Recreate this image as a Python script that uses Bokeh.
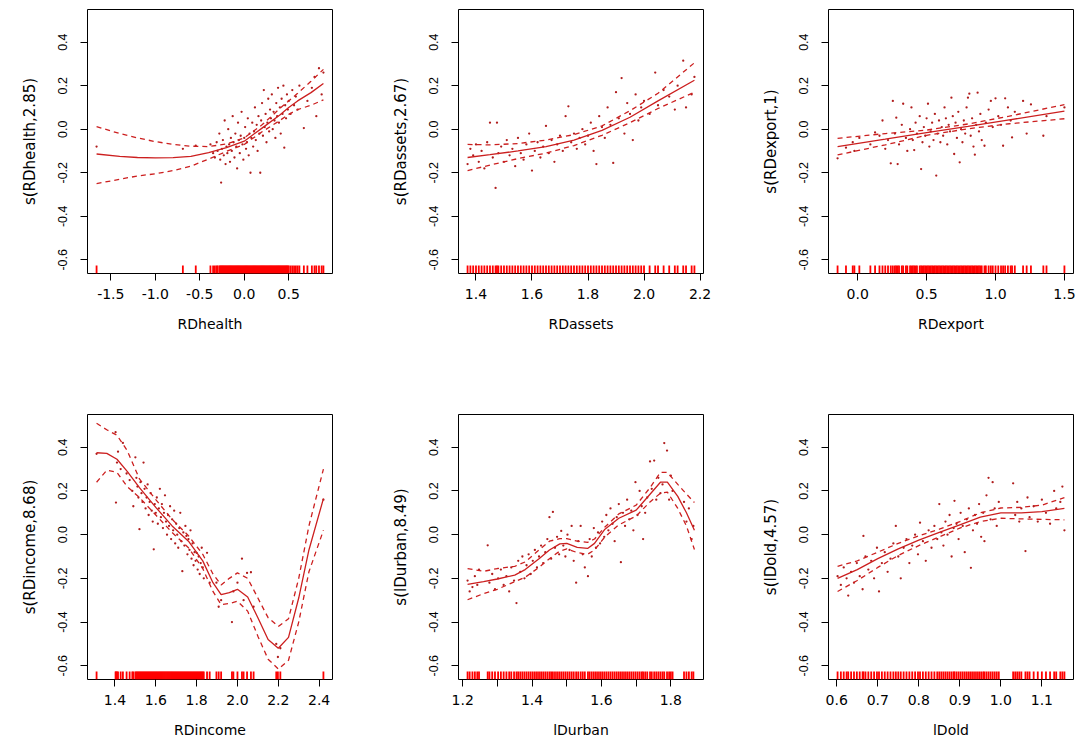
from bokeh.plotting import figure
from bokeh.layouts import column, row
from bokeh.models import Range1d, FixedTicker
from bokeh.embed import file_html
from bokeh.resources import INLINE

# ---------------- shared y axis ----------------
Y_LO, Y_HI = -0.663, 0.55
y_ticks = [-0.6, -0.4, -0.2, 0.0, 0.2, 0.4]
y_tick_labels = ["-0.6", "-0.4", "-0.2", "0.0", "0.2", "0.4"]

# ---------------- panel 1: RDhealth ----------------
p1_xlabel = "RDhealth"
p1_ylabel = "s(RDhealth,2.85)"
p1_ticks = [-1.5, -1.0, -0.5, 0.0, 0.5]
p1_tick_labels = ["-1.5", "-1.0", "-0.5", "0.0", "0.5"]
p1_grid = [-1.66, -1.4, -1.2, -1.0, -0.8, -0.6, -0.4, -0.2, 0.0, 0.2, 0.4, 0.5, 0.6, 0.75, 0.89]
p1_fit = [-0.114, -0.125, -0.13, -0.132, -0.131, -0.125, -0.108, -0.085, -0.055, 0.005, 0.065, 0.1, 0.13, 0.168, 0.21]
p1_up = [0.012, -0.02, -0.04, -0.057, -0.07, -0.078, -0.08, -0.068, -0.04, 0.02, 0.095, 0.13, 0.165, 0.22, 0.275]
p1_lo = [-0.25, -0.23, -0.215, -0.205, -0.19, -0.17, -0.137, -0.102, -0.07, -0.012, 0.04, 0.068, 0.09, 0.11, 0.135]
p1_x = [-1.66, -0.69, -0.545, -0.38, -0.35, -0.33, -0.31, -0.3, -0.28, -0.27, -0.26, -0.25, -0.24, -0.23, -0.22,
        -0.21, -0.2, -0.19, -0.18, -0.17, -0.16, -0.15, -0.14, -0.13, -0.12, -0.11, -0.1, -0.09, -0.08, -0.07,
        -0.06, -0.05, -0.04, -0.03, -0.02, -0.01, 0.0, 0.01, 0.02, 0.03, 0.04, 0.05, 0.06, 0.07, 0.08, 0.09, 0.1,
        0.11, 0.12, 0.13, 0.14, 0.15, 0.16, 0.17, 0.18, 0.19, 0.2, 0.21, 0.22, 0.23, 0.24, 0.25, 0.26, 0.27, 0.28,
        0.29, 0.3, 0.31, 0.32, 0.33, 0.34, 0.35, 0.36, 0.37, 0.38, 0.39, 0.4, 0.41, 0.42, 0.43, 0.44, 0.45, 0.46,
        0.47, 0.48, 0.49, 0.5, 0.52, 0.54, 0.56, 0.58, 0.6, 0.62, 0.67, 0.71, 0.76, 0.79, 0.81, 0.84, 0.87, 0.89]
p1_y = [-0.08, -0.09, -0.075, -0.07, -0.11, -0.13, -0.06, -0.1, -0.02, -0.14, -0.245, -0.09, -0.05, -0.12, 0.04,
        -0.16, -0.08, -0.11, 0.0, -0.07, -0.15, -0.04, -0.1, 0.06, -0.06, -0.13, -0.02, -0.08, -0.18, 0.03,
        -0.05, -0.11, -0.03, 0.08, -0.07, -0.14, -0.04, 0.01, -0.09, -0.06, 0.05, -0.12, -0.02, -0.2, -0.04, 0.03,
        -0.08, -0.01, 0.1, -0.05, 0.02, -0.1, 0.06, -0.02, -0.2, 0.04, 0.12, -0.03, 0.18, 0.01, 0.07, -0.06, 0.03,
        0.14, -0.01, 0.09, 0.05, 0.16, 0.0, 0.08, 0.04, -0.04, 0.12, 0.06, 0.19, 0.03, 0.1, -0.02, 0.14, 0.07, 0.2,
        -0.085, 0.11, 0.05, 0.16, 0.09, 0.13, 0.07, 0.18, 0.11, 0.15, 0.09, 0.2, 0.005, 0.13, 0.19, 0.24, 0.06,
        0.28, 0.16, 0.26]

# ---------------- panel 2: RDassets ----------------
p2_xlabel = "RDassets"
p2_ylabel = "s(RDassets,2.67)"
p2_ticks = [1.4, 1.6, 1.8, 2.0, 2.2]
p2_tick_labels = ["1.4", "1.6", "1.8", "2.0", "2.2"]
p2_grid = [1.37, 1.45, 1.55, 1.65, 1.75, 1.85, 1.95, 2.05, 2.18]
p2_fit = [-0.13, -0.117, -0.1, -0.08, -0.05, -0.005, 0.055, 0.13, 0.225]
p2_up = [-0.07, -0.072, -0.066, -0.05, -0.025, 0.015, 0.085, 0.165, 0.305]
p2_lo = [-0.19, -0.165, -0.135, -0.11, -0.075, -0.028, 0.03, 0.095, 0.17]
p2_x = [1.37, 1.38, 1.39, 1.4, 1.41, 1.42, 1.43, 1.44, 1.45, 1.46, 1.47, 1.475, 1.48, 1.49, 1.5, 1.51, 1.52,
        1.53, 1.54, 1.55, 1.56, 1.57, 1.58, 1.59, 1.6, 1.61, 1.62, 1.63, 1.64, 1.65, 1.66, 1.67, 1.68, 1.69, 1.7,
        1.71, 1.72, 1.73, 1.74, 1.75, 1.76, 1.77, 1.78, 1.79, 1.8, 1.81, 1.82, 1.83, 1.84, 1.85, 1.86, 1.87, 1.88,
        1.89, 1.9, 1.91, 1.92, 1.93, 1.94, 1.95, 1.96, 1.97, 1.98, 1.99, 2.0, 2.02, 2.04, 2.05, 2.07, 2.09, 2.11,
        2.12, 2.14, 2.15, 2.17, 2.18]
p2_y = [-0.16, -0.09, -0.12, -0.07, -0.15, -0.1, -0.18, -0.06, 0.03, -0.13, -0.27, 0.03, -0.11, -0.08, -0.15,
        -0.05, -0.12, -0.09, -0.17, -0.04, -0.11, -0.14, -0.07, -0.02, -0.19, -0.1, -0.06, -0.13, -0.08, 0.015,
        -0.11, -0.05, -0.15, -0.07, -0.03, -0.1, 0.06, 0.105, -0.06, -0.02, -0.09, -0.04, 0.0, -0.07, -0.03, 0.03,
        -0.1, -0.16, 0.06, 0.01, -0.04, 0.1, 0.02, -0.155, 0.17, 0.05, 0.235, -0.02, 0.12, 0.07, -0.05, 0.16, 0.04,
        0.1, 0.13, 0.07, 0.26, 0.11, 0.18, 0.15, 0.09, 0.2, 0.315, 0.1, 0.16, 0.24]

# ---------------- panel 3: RDexport ----------------
p3_xlabel = "RDexport"
p3_ylabel = "s(RDexport,1)"
p3_ticks = [0.0, 0.5, 1.0, 1.5]
p3_tick_labels = ["0.0", "0.5", "1.0", "1.5"]
p3_grid = [-0.146, 0.2, 0.5, 0.8, 1.1, 1.5]
p3_fit = [-0.08, -0.046, -0.016, 0.013, 0.043, 0.083]
p3_up = [-0.042, -0.02, -0.004, 0.024, 0.06, 0.113]
p3_lo = [-0.118, -0.072, -0.028, 0.002, 0.025, 0.048]
p3_x = [-0.146, -0.085, -0.036, -0.024, 0.012, 0.092, 0.126, 0.158, 0.18, 0.2, 0.22, 0.24, 0.255, 0.27, 0.28,
        0.29, 0.3, 0.32, 0.33, 0.35, 0.36, 0.38, 0.39, 0.4, 0.41, 0.42, 0.43, 0.45, 0.46, 0.47, 0.48, 0.49, 0.5,
        0.51, 0.52, 0.53, 0.54, 0.55, 0.56, 0.57, 0.58, 0.59, 0.6, 0.61, 0.62, 0.63, 0.64, 0.65, 0.66, 0.67, 0.68,
        0.69, 0.7, 0.71, 0.72, 0.73, 0.74, 0.75, 0.76, 0.77, 0.78, 0.79, 0.8, 0.81, 0.82, 0.83, 0.84, 0.85, 0.86,
        0.87, 0.88, 0.89, 0.9, 0.92, 0.93, 0.95, 0.966, 0.98, 1.0, 1.02, 1.04, 1.055, 1.07, 1.09, 1.11, 1.12, 1.14,
        1.2, 1.226, 1.257, 1.347, 1.37, 1.5]
p3_y = [-0.134, -0.085, -0.06, -0.1, -0.04, -0.07, -0.015, -0.03, 0.04, -0.09, -0.05, -0.157, 0.13, -0.02, 0.053,
        -0.16, -0.07, 0.02, 0.117, -0.04, -0.1, 0.0, 0.1, -0.05, -0.096, 0.03, -0.02, 0.06, -0.183, -0.06, 0.01,
        -0.03, 0.05, 0.117, -0.08, -0.01, 0.03, -0.05, 0.07, -0.213, -0.02, 0.04, -0.06, 0.01, -0.03, 0.1, 0.05,
        -0.07, 0.02, -0.01, 0.145, 0.06, -0.114, 0.03, -0.04, 0.08, -0.152, 0.0, -0.06, 0.04, -0.02, 0.1, 0.145,
        0.163, -0.03, 0.05, -0.08, -0.117, 0.02, 0.168, -0.01, 0.07, -0.05, -0.076, 0.03, 0.09, 0.13, 0.01, 0.142,
        0.06, 0.02, -0.076, 0.142, 0.1, 0.04, -0.038, 0.08, 0.13, -0.02, 0.114, -0.03, 0.06, 0.1]

# ---------------- panel 4: RDincome ----------------
p4_xlabel = "RDincome"
p4_ylabel = "s(RDincome,8.68)"
p4_ticks = [1.4, 1.6, 1.8, 2.0, 2.2, 2.4]
p4_tick_labels = ["1.4", "1.6", "1.8", "2.0", "2.2", "2.4"]
p4_grid = [1.31, 1.36, 1.41, 1.46, 1.52, 1.6, 1.68, 1.76, 1.83, 1.88, 1.92, 1.96, 2.0, 2.05, 2.1, 2.15, 2.2,
           2.25, 2.3, 2.35, 2.421]
p4_fit = [0.375, 0.372, 0.345, 0.29, 0.215, 0.125, 0.04, -0.03, -0.12, -0.22, -0.275, -0.265, -0.25, -0.285,
          -0.38, -0.48, -0.52, -0.47, -0.29, -0.07, 0.165]
p4_up = [0.51, 0.48, 0.455, 0.385, 0.255, 0.16, 0.07, -0.005, -0.09, -0.18, -0.23, -0.2, -0.175, -0.2, -0.29,
         -0.38, -0.42, -0.385, -0.2, 0.04, 0.3]
p4_lo = [0.24, 0.295, 0.285, 0.22, 0.17, 0.09, 0.01, -0.06, -0.155, -0.26, -0.32, -0.315, -0.305, -0.35, -0.465,
         -0.57, -0.615, -0.575, -0.4, -0.17, 0.02]
p4_x = [1.31, 1.403, 1.405, 1.41, 1.415, 1.428, 1.439, 1.457, 1.472, 1.485, 1.49, 1.5, 1.505, 1.51, 1.515, 1.52,
        1.525, 1.53, 1.535, 1.54, 1.545, 1.55, 1.555, 1.56, 1.565, 1.57, 1.575, 1.58, 1.585, 1.59, 1.595, 1.6,
        1.605, 1.61, 1.615, 1.62, 1.625, 1.63, 1.635, 1.64, 1.645, 1.65, 1.655, 1.66, 1.665, 1.67, 1.675, 1.68,
        1.685, 1.69, 1.695, 1.7, 1.705, 1.71, 1.715, 1.72, 1.725, 1.73, 1.735, 1.74, 1.745, 1.75, 1.755, 1.76,
        1.765, 1.77, 1.775, 1.78, 1.785, 1.79, 1.795, 1.8, 1.805, 1.81, 1.815, 1.82, 1.825, 1.83, 1.835, 1.851,
        1.864, 1.897, 1.908, 1.92, 1.973, 1.98, 2.0, 2.022, 2.03, 2.047, 2.066, 2.079, 2.19, 2.198, 2.21, 2.421]
p4_y = [0.37, 0.469, 0.147, 0.33, 0.38, 0.3, 0.42, 0.28, 0.25, 0.2, 0.13, 0.354, 0.26, 0.22, 0.17, 0.025, 0.24,
        0.19, 0.15, 0.33, 0.21, 0.12, 0.17, 0.23, 0.09, 0.15, 0.19, 0.11, 0.06, -0.067, 0.14, 0.1, 0.17, 0.05,
        0.12, 0.21, 0.08, 0.14, 0.03, 0.1, 0.18, 0.06, 0.0, 0.09, 0.04, 0.13, -0.02, 0.07, 0.02, 0.11, -0.04, 0.05,
        0.0, -0.06, 0.03, 0.1, -0.03, -0.167, 0.01, -0.05, 0.04, -0.006, -0.09, -0.02, -0.07, 0.02, -0.11, -0.04,
        -0.14, -0.08, -0.12, -0.083, -0.16, -0.1, -0.18, -0.13, -0.06, -0.15, -0.2, -0.083, -0.22, -0.22, -0.33,
        -0.3, -0.4, -0.26, -0.22, -0.11, -0.3, -0.175, -0.172, -0.33, -0.5, -0.56, -0.52, 0.16]

# ---------------- panel 5: lDurban ----------------
p5_xlabel = "lDurban"
p5_ylabel = "s(lDurban,8.49)"
p5_ticks = [1.2, 1.3, 1.4, 1.5, 1.6, 1.7, 1.8]
p5_tick_labels = ["1.2", "", "1.4", "", "1.6", "", "1.8"]
p5_grid = [1.214, 1.26, 1.3, 1.35, 1.38, 1.42, 1.45, 1.48, 1.5, 1.53, 1.56, 1.58, 1.61, 1.65, 1.7, 1.74, 1.77,
           1.79, 1.82, 1.845, 1.868]
p5_fit = [-0.228, -0.215, -0.203, -0.185, -0.16, -0.11, -0.07, -0.042, -0.04, -0.058, -0.063, -0.04, 0.025,
          0.075, 0.112, 0.185, 0.24, 0.24, 0.175, 0.1, 0.02]
p5_up = [-0.155, -0.168, -0.155, -0.145, -0.125, -0.07, -0.03, -0.018, -0.018, -0.03, -0.035, -0.02, 0.035,
         0.095, 0.135, 0.215, 0.285, 0.285, 0.23, 0.186, 0.147]
p5_lo = [-0.298, -0.27, -0.25, -0.215, -0.195, -0.15, -0.11, -0.075, -0.065, -0.082, -0.09, -0.07, -0.01, 0.045,
         0.085, 0.15, 0.19, 0.195, 0.12, 0.04, -0.068]
p5_x = [1.214, 1.22, 1.228, 1.235, 1.242, 1.247, 1.272, 1.277, 1.285, 1.293, 1.302, 1.31, 1.318, 1.326, 1.334,
        1.34, 1.348, 1.355, 1.36, 1.366, 1.372, 1.378, 1.384, 1.39, 1.396, 1.402, 1.408, 1.414, 1.42, 1.426,
        1.432, 1.438, 1.444, 1.45, 1.455, 1.46, 1.466, 1.472, 1.478, 1.484, 1.49, 1.496, 1.502, 1.508, 1.514,
        1.52, 1.527, 1.533, 1.54, 1.546, 1.552, 1.561, 1.566, 1.572, 1.578, 1.584, 1.59, 1.596, 1.602, 1.608,
        1.614, 1.62, 1.626, 1.632, 1.638, 1.644, 1.65, 1.656, 1.662, 1.668, 1.674, 1.68, 1.686, 1.692, 1.698,
        1.704, 1.71, 1.716, 1.72, 1.726, 1.732, 1.74, 1.745, 1.752, 1.758, 1.764, 1.77, 1.776, 1.781, 1.789,
        1.795, 1.8, 1.805, 1.838, 1.845, 1.852, 1.86, 1.865]
p5_y = [-0.21, -0.26, -0.24, -0.19, -0.23, -0.16, -0.049, -0.22, -0.18, -0.25, -0.2, -0.16, -0.23, -0.19, -0.26,
        -0.15, -0.21, -0.313, -0.12, -0.17, -0.1, -0.2, -0.14, -0.09, -0.18, -0.12, -0.07, -0.15, -0.1, -0.05,
        -0.13, -0.08, -0.02, 0.08, -0.11, 0.104, -0.06, -0.01, -0.09, 0.017, -0.05, -0.1, 0.0, -0.07, 0.04, -0.12,
        -0.22, -0.03, 0.04, -0.09, -0.15, -0.19, -0.02, -0.1, 0.03, -0.06, 0.01, -0.04, 0.06, -0.01, 0.09, 0.02,
        0.12, 0.05, -0.03, 0.08, 0.14, -0.126, 0.1, 0.04, 0.16, 0.07, 0.11, 0.02, 0.24, 0.09, 0.2, 0.13, -0.02,
        0.1, 0.17, 0.335, 0.21, 0.339, 0.16, 0.26, 0.19, 0.23, 0.419, 0.385, 0.16, 0.27, 0.2, 0.15, 0.06, 0.12,
        -0.02, 0.04]

# ---------------- panel 6: lDold ----------------
p6_xlabel = "lDold"
p6_ylabel = "s(lDold,4.57)"
p6_ticks = [0.6, 0.7, 0.8, 0.9, 1.0, 1.1]
p6_tick_labels = ["0.6", "0.7", "0.8", "0.9", "1.0", "1.1"]
p6_grid = [0.602, 0.65, 0.7, 0.75, 0.8, 0.85, 0.9, 0.95, 1.0, 1.05, 1.1, 1.155]
p6_fit = [-0.2, -0.16, -0.11, -0.065, -0.025, 0.01, 0.045, 0.08, 0.1, 0.1, 0.105, 0.12]
p6_up = [-0.145, -0.12, -0.08, -0.04, -0.005, 0.025, 0.06, 0.1, 0.122, 0.125, 0.135, 0.17]
p6_lo = [-0.26, -0.21, -0.15, -0.095, -0.05, -0.01, 0.03, 0.06, 0.075, 0.072, 0.07, 0.068]
p6_x = [0.602, 0.61, 0.617, 0.624, 0.628, 0.635, 0.642, 0.649, 0.656, 0.663, 0.665, 0.67, 0.677, 0.684, 0.691,
        0.698, 0.703, 0.71, 0.717, 0.724, 0.731, 0.738, 0.744, 0.75, 0.756, 0.763, 0.77, 0.777, 0.784, 0.791,
        0.798, 0.803, 0.81, 0.817, 0.824, 0.831, 0.838, 0.845, 0.85, 0.855, 0.86, 0.865, 0.87, 0.875, 0.88,
        0.885, 0.887, 0.892, 0.897, 0.902, 0.907, 0.912, 0.917, 0.922, 0.927, 0.932, 0.937, 0.942, 0.947, 0.952,
        0.957, 0.96, 0.965, 0.97, 0.975, 0.98, 0.985, 0.99, 0.995, 1.03, 1.035, 1.04, 1.045, 1.05, 1.06, 1.065,
        1.07, 1.08, 1.09, 1.1, 1.11, 1.12, 1.13, 1.135, 1.145, 1.15, 1.155]
p6_y = [-0.19, -0.23, -0.15, -0.2, -0.279, -0.17, -0.22, -0.13, -0.19, -0.25, -0.006, -0.1, -0.16, -0.12, -0.2,
        -0.06, -0.26, -0.13, -0.08, -0.17, -0.11, -0.04, 0.04, -0.1, -0.2, -0.06, -0.02, -0.13, -0.05, 0.0, -0.09,
        0.055, -0.03, -0.12, 0.02, -0.06, 0.04, -0.02, 0.14, 0.01, -0.05, 0.06, 0.0, 0.09, -0.1, 0.03, 0.155, 0.05,
        -0.02, 0.1, 0.04, -0.08, 0.07, 0.12, -0.152, 0.02, 0.09, 0.05, 0.14, -0.01, 0.1, -0.03, 0.18, 0.26, 0.07,
        0.24, 0.12, 0.04, 0.15, 0.235, 0.09, 0.15, 0.06, 0.12, -0.075, 0.17, 0.08, 0.13, 0.06, 0.16, 0.1, 0.05,
        0.2, 0.12, 0.15, 0.22, 0.02]

# ---------------- styling / layout ----------------
LINE_COLOR = "#cc1f1f"
POINT_COLOR = "#b01c1c"
RUG_COLOR = "#ff0000"
FIG_W = [379, 371, 326]
BORDER_L = [87, 79, 78]
BORDER_R = [47, 47, 3]
FIG_H = [388, 360]
BORDER_T = [9, 26]
BORDER_B = [115, 69]


def make_panel(col, rw, xlabel, ylabel, ticks, tick_labels, grid, fit, up, lo, px, py):
    assert len(px) == len(py) and len(grid) == len(fit) == len(up) == len(lo)
    xmin = min(min(px), min(grid))
    xmax = max(max(px), max(grid))
    pad = 0.04 * (xmax - xmin)
    p = figure(width=FIG_W[col], height=FIG_H[rw],
               x_range=Range1d(xmin - pad, xmax + pad), y_range=Range1d(Y_LO, Y_HI),
               output_backend="svg", toolbar_location=None,
               min_border_left=BORDER_L[col], min_border_right=BORDER_R[col],
               min_border_top=BORDER_T[rw], min_border_bottom=BORDER_B[rw])
    p.grid.visible = False
    p.background_fill_color = "white"
    p.border_fill_color = "white"
    p.outline_line_color = "black"
    p.outline_line_width = 1
    p.outline_line_alpha = 1.0

    # partial residuals
    p.scatter(px, py, size=2.3, fill_color=POINT_COLOR, line_color=None)
    # smooth and +/- 2 se bands
    p.line(grid, fit, line_color=LINE_COLOR, line_width=1.3)
    p.line(grid, up, line_color=LINE_COLOR, line_width=1.3, line_dash="5 4")
    p.line(grid, lo, line_color=LINE_COLOR, line_width=1.3, line_dash="5 4")
    # rug
    rug_len = 0.03 * (Y_HI - Y_LO)
    p.segment(x0=px, y0=[Y_LO] * len(px), x1=px, y1=[Y_LO + rug_len] * len(px),
              line_color=RUG_COLOR, line_width=1.8)

    xa = p.xaxis[0]
    ya = p.yaxis[0]
    for ax in (xa, ya):
        ax.axis_line_color = None
        ax.major_tick_out = 7
        ax.major_tick_in = 0
        ax.major_tick_line_color = "black"
        ax.minor_tick_line_color = None
        ax.major_label_text_color = "black"
        ax.axis_label_text_color = "black"
        ax.axis_label_text_font_style = "normal"
        ax.axis_label_text_font = "DejaVu Sans"

    xa.ticker = FixedTicker(ticks=ticks)
    xa.major_label_overrides = {t: s for t, s in zip(ticks, tick_labels)}
    xa.major_label_text_font = "DejaVu Sans"
    xa.major_label_text_font_size = "14px"
    xa.major_label_standoff = 8
    xa.axis_label = xlabel
    xa.axis_label_text_font_size = "14px"
    xa.axis_label_standoff = 14

    ya.ticker = FixedTicker(ticks=y_ticks)
    ya.major_label_overrides = {t: s for t, s in zip(y_ticks, y_tick_labels)}
    ya.major_label_orientation = "vertical"
    ya.major_label_text_font = "Liberation Sans"
    ya.major_label_text_font_size = "12.5px"
    ya.major_label_standoff = 13
    ya.axis_label = ylabel
    ya.axis_label_text_font_size = "15px"
    ya.axis_label_standoff = 17
    return p


f1 = make_panel(0, 0, p1_xlabel, p1_ylabel, p1_ticks, p1_tick_labels, p1_grid, p1_fit, p1_up, p1_lo, p1_x, p1_y)
f2 = make_panel(1, 0, p2_xlabel, p2_ylabel, p2_ticks, p2_tick_labels, p2_grid, p2_fit, p2_up, p2_lo, p2_x, p2_y)
f3 = make_panel(2, 0, p3_xlabel, p3_ylabel, p3_ticks, p3_tick_labels, p3_grid, p3_fit, p3_up, p3_lo, p3_x, p3_y)
f4 = make_panel(0, 1, p4_xlabel, p4_ylabel, p4_ticks, p4_tick_labels, p4_grid, p4_fit, p4_up, p4_lo, p4_x, p4_y)
f5 = make_panel(1, 1, p5_xlabel, p5_ylabel, p5_ticks, p5_tick_labels, p5_grid, p5_fit, p5_up, p5_lo, p5_x, p5_y)
f6 = make_panel(2, 1, p6_xlabel, p6_ylabel, p6_ticks, p6_tick_labels, p6_grid, p6_fit, p6_up, p6_lo, p6_x, p6_y)

layout = column(row(f1, f2, f3), row(f4, f5, f6))

with open("out.html", "w") as fh:
    fh.write(file_html(layout, INLINE))
